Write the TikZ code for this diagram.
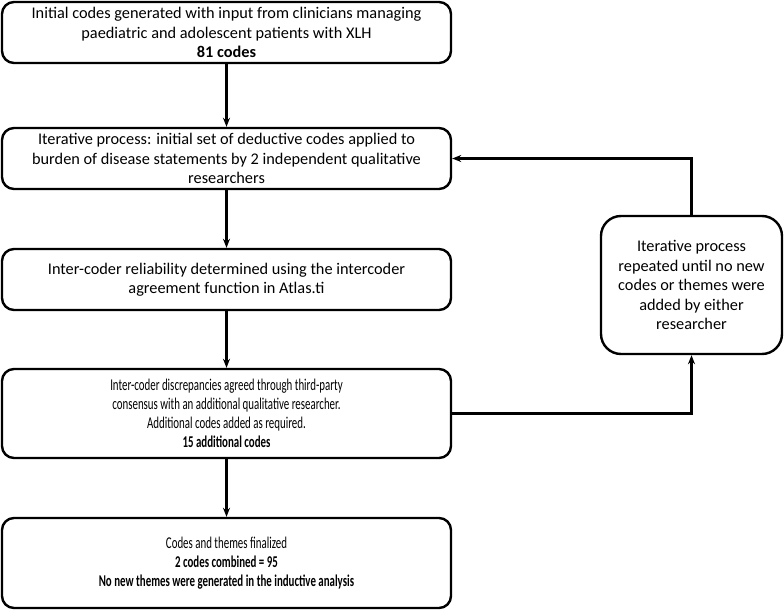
\documentclass[tikz,border=0pt]{standalone}
\usepackage{fontspec}
\setmainfont{Carlito}
\newfontfamily\condfont[FakeStretch=0.66]{Carlito}
\usetikzlibrary{arrows.meta}
\begin{document}
\begin{tikzpicture}[x=1pt,y=-1pt,
  box/.style={draw, line width=2.4pt, rounded corners=12pt, align=center, inner sep=0pt, font=\fontsize{16.3}{19.5}\selectfont},
  condbox/.style={box, font=\condfont\fontsize{16.5}{19.2}\selectfont},
  conn/.style={line width=2.2pt, -{Stealth[length=9pt,width=7pt]}}]
\useasboundingbox (0,0) rectangle (784,610);
\node[box, minimum width=449pt, minimum height=61pt] (b1) at (226.5,32.5)
  {Initial codes generated with input from clinicians managing\\paediatric and adolescent patients with XLH\\\textbf{81 codes}};
\node[box, minimum width=449pt, minimum height=61pt] (b2) at (226.5,158.5)
  {Iterative process: initial set of deductive codes applied to\\burden of disease statements by 2 independent qualitative\\researchers};
\node[box, minimum width=449pt, minimum height=61pt] (b3) at (226.5,279.5)
  {Inter-coder reliability determined using the intercoder\\agreement function in Atlas.ti};
\node[condbox, minimum width=449pt, minimum height=89pt] (b4) at (226.5,413.5)
  {Inter-coder discrepancies agreed through third-party\\consensus with an additional qualitative researcher.\\Additional codes added as required.\\\textbf{15 additional codes}};
\node[condbox, minimum width=449pt, minimum height=90pt] (b5) at (226.5,563)
  {Codes and themes finalized\\\textbf{2 codes combined = 95}\\\textbf{No new themes were generated in the inductive analysis}};
\node[box, rounded corners=20pt, minimum width=181pt, minimum height=138pt] (r) at (691.5,285)
  {Iterative process\\repeated until no new\\codes or themes were\\added by either\\researcher};
\draw[conn] (b1.south) -- (b2.north);
\draw[conn] (b2.south) -- (b3.north);
\draw[conn] (b3.south) -- (b4.north);
\draw[conn] (b4.south) -- (b5.north);
\draw[conn] (b4.east) -| (r.south);
\draw[conn] (r.north) |- (b2.east);
\end{tikzpicture}
\end{document}
